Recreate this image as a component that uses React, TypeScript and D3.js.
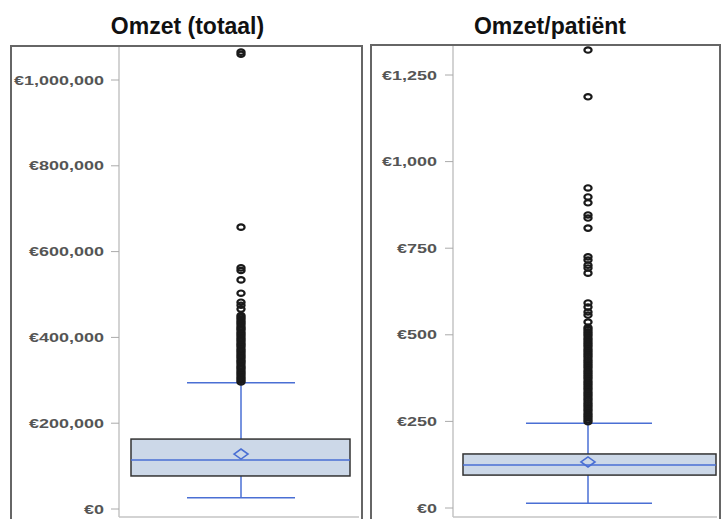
import * as d3 from 'd3';

// two panels, one box each
const titles = ['Omzet (totaal)', 'Omzet/patiënt'];
const yMax = [1000000, 1250];
const tickValues = [
  [0, 200000, 400000, 600000, 800000, 1000000],
  [0, 250, 500, 750, 1000, 1250],
];
const whiskerLow = [26000, 14];
const q1 = [77000, 95];
const median = [114000, 124];
const mean = [128000, 133];
const q3 = [163000, 156];
const whiskerHigh = [294000, 245];

const outliersTotaal = [
  1065000, 1060000, 657000, 562000, 556000, 534000, 503000, 482000, 475000, 466000,
  451000, 447000, 443000, 438000, 434000, 430000, 425000, 421000, 417000, 412000,
  408000, 404000, 399000, 395000, 391000, 386000, 382000, 378000, 373000, 369000,
  365000, 360000, 356000, 352000, 347000, 343000, 339000, 334000, 330000, 326000,
  321000, 317000, 313000, 308000, 304000, 300000, 296000,
];
const outliersPatient = [
  1322, 1187, 924, 898, 881, 846, 837, 808, 725, 716, 701, 693, 678,
  592, 580, 566, 557, 537,
  521, 515, 509, 503, 497, 490, 484, 478, 472, 466, 459, 453, 447, 441, 435, 428,
  422, 416, 410, 404, 397, 391, 385, 379, 373, 366, 360, 354, 348, 342, 335, 329,
  323, 317, 311, 304, 298, 292, 286, 280, 273, 267, 261, 255, 249,
];
const outliers = [outliersTotaal, outliersPatient];

// layout of each panel
const layout = [
  { ox: 11, oy: 46, ow: 351, axisX: 119, labelX: 104, y0: 509, y1: 80, boxL: 131, boxR: 350, capL: 187, capR: 295, cx: 241, titleX: 187.5 },
  { ox: 371, oy: 45, ow: 349, axisX: 453, labelX: 437, y0: 508, y1: 75, boxL: 463, boxR: 716, capL: 526, capR: 652, cx: 588, titleX: 550 },
];

const blue = '#4a6fd4';
const fmt = d3.format(',');

const Panel = ({ i }: { i: number }) => {
  const L = layout[i];
  const y = d3.scaleLinear().domain([0, yMax[i]]).range([L.y0, L.y1]);
  const yq1 = y(q1[i]);
  const yq3 = y(q3[i]);
  const ym = y(mean[i]);
  return (
    <g>
      <text x={L.titleX} y={34} textAnchor="middle" fontFamily="'Liberation Sans', Arial, sans-serif"
        fontWeight="bold" fontSize={23} fill="#111">{titles[i]}</text>
      <rect x={L.ox} y={L.oy} width={L.ow} height={500} fill="#fff" stroke="#666" strokeWidth={2} />
      {/* axis */}
      <line x1={L.axisX} x2={L.axisX} y1={L.oy + 1} y2={517} stroke="#c4c4c4" strokeWidth={1.5} />
      <line x1={L.axisX} x2={L.ox + L.ow - 3} y1={517} y2={517} stroke="#c4c4c4" strokeWidth={1.5} />
      {tickValues[i].map(t => (
        <g key={t}>
          <line x1={L.axisX - 8} x2={L.axisX} y1={y(t)} y2={y(t)} stroke="#aaa" strokeWidth={1} />
          <text transform={`translate(${L.labelX},${y(t) + 4.5}) scale(1.5,1)`} textAnchor="end"
            fontFamily="'Liberation Sans', Arial, sans-serif" fontWeight="bold" fontSize={12} fill="#555">
            {'€' + fmt(t)}
          </text>
        </g>
      ))}
      {/* whiskers */}
      <line x1={L.cx} x2={L.cx} y1={y(whiskerHigh[i])} y2={yq3} stroke={blue} strokeWidth={1.5} />
      <line x1={L.cx} x2={L.cx} y1={yq1} y2={y(whiskerLow[i])} stroke={blue} strokeWidth={1.5} />
      <line x1={L.capL} x2={L.capR} y1={y(whiskerHigh[i])} y2={y(whiskerHigh[i])} stroke={blue} strokeWidth={1.5} />
      <line x1={L.capL} x2={L.capR} y1={y(whiskerLow[i])} y2={y(whiskerLow[i])} stroke={blue} strokeWidth={1.5} />
      {/* box */}
      <rect x={L.boxL} y={yq3} width={L.boxR - L.boxL} height={yq1 - yq3} fill="#ccd8e8" stroke="#333" strokeWidth={1.5} />
      <line x1={L.boxL} x2={L.boxR} y1={y(median[i])} y2={y(median[i])} stroke={blue} strokeWidth={1.5} />
      <path d={`M${L.cx - 7},${ym} L${L.cx},${ym - 5} L${L.cx + 7},${ym} L${L.cx},${ym + 5} Z`}
        fill="none" stroke={blue} strokeWidth={1.6} />
      {/* outliers */}
      {outliers[i].map((v, k) => (
        <ellipse key={k} cx={L.cx} cy={y(v)} rx={3.6} ry={2.7} fill="none" stroke="#1a1a1a" strokeWidth={2.2} />
      ))}
    </g>
  );
};

export default function App() {
  return (
    <svg width={721} height={519} style={{ position: 'absolute', left: 0, top: 0, background: '#fff' }}>
      <rect width={721} height={519} fill="#fff" />
      <Panel i={0} />
      <Panel i={1} />
    </svg>
  );
}
